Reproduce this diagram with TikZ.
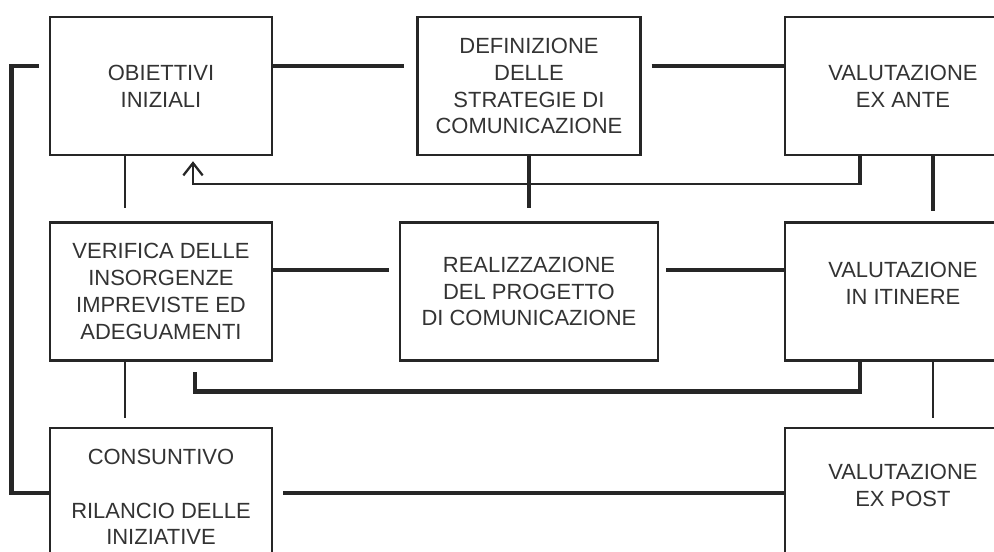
\documentclass[tikz,border=0pt]{standalone}
\usepackage{fontspec}
\setmainfont{Liberation Sans}
\usetikzlibrary{positioning, arrows.meta}

\begin{document}
\begin{tikzpicture}[
    box/.style={draw=black!85, line width=1.4pt, rectangle, minimum width=4.44cm, minimum height=2.76cm, align=center, text=black!80, font=\fontsize{12.5}{15.3}\selectfont},
    thinln/.style={draw=black!85, line width=1.3pt},
    ln/.style={draw=black!85, line width=1.8pt},
    thickln/.style={draw=black!85, line width=2.7pt},
    arr/.style={draw=black!85, line width=1.3pt, -{Straight Barb[length=7pt, width=11pt]}}
]
    \useasboundingbox (-3.22,1.72) rectangle (16.66,-9.30);
    \clip (-3.22,1.72) rectangle (16.66,-9.30);
    \fill[white] (-3.22,1.72) rectangle (16.66,-9.30);

    \node[box] (obj) at (0,0) {OBIETTIVI\\INIZIALI};
    \node[box, minimum width=4.46cm] (def) [right=2.86cm of obj] {DEFINIZIONE\\DELLE\\STRATEGIE DI\\COMUNICAZIONE};
    \node[box, minimum width=4.72cm] (exante) [right=2.84cm of def] {VALUTAZIONE\\EX ANTE};
    \node[box] (ver) [below=1.3cm of obj] {VERIFICA DELLE\\INSORGENZE\\IMPREVISTE ED\\ADEGUAMENTI};
    \node[box, minimum width=5.16cm] (real) [below=1.3cm of def] {REALIZZAZIONE\\DEL PROGETTO\\DI COMUNICAZIONE};
    \node[box, minimum width=4.72cm] (itin) [below=1.3cm of exante] {VALUTAZIONE\\IN ITINERE\\[-6pt]\mbox{}};
    \node[box] (cons) [below=1.3cm of ver] {CONSUNTIVO\\~\\RILANCIO DELLE\\INIZIATIVE};
    \node[box, minimum width=4.72cm] (expost) [below=1.3cm of itin] {VALUTAZIONE\\EX POST\\[-2pt]\mbox{}};

    \draw[ln] ([yshift=0.4cm]obj.east) -- ([xshift=-0.24cm, yshift=0.4cm]def.west);
    \draw[ln] ([xshift=0.2cm, yshift=0.4cm]def.east) -- ([yshift=0.4cm]exante.west);
    \draw[ln] ([yshift=0.43cm]ver.east) -- ([xshift=-0.2cm, yshift=0.43cm]real.west);
    \draw[ln] ([xshift=0.14cm, yshift=0.43cm]real.east) -- ([yshift=0.43cm]itin.west);
    \draw[thickln] ([xshift=0.2cm, yshift=0.08cm]cons.east) -- ([yshift=0.08cm]expost.west);
    \draw[thickln] ([xshift=-0.2cm, yshift=0.4cm]obj.west) -| ([xshift=-0.74cm, yshift=0.08cm]cons.west) -- ([yshift=0.08cm]cons.west);

    \draw[thinln] ([xshift=-0.72cm]obj.south) -- ([xshift=-0.72cm, yshift=0.26cm]ver.north);
    \draw[ln] (def.south) -- ([yshift=0.26cm]real.north);
    \draw[thickln] ([xshift=0.6cm]exante.south) -- ([xshift=0.6cm, yshift=0.2cm]itin.north);
    \draw[thinln] ([xshift=-0.72cm]ver.south) -- ([xshift=-0.72cm, yshift=0.18cm]cons.north);
    \draw[thinln] ([xshift=0.6cm]itin.south) -- ([xshift=0.6cm, yshift=0.18cm]expost.north);

    \draw[thickln] ([xshift=-0.86cm]exante.south) -- ++(0,-0.58) coordinate (back);
    \draw[arr] ([yshift=0.6pt]back) -| ([xshift=0.64cm, yshift=-0.1cm]obj.south);
    \draw[thickln] ([xshift=-0.86cm]itin.south) -- ++(0,-0.6) -| ([xshift=0.68cm, yshift=-0.2cm]ver.south);
\end{tikzpicture}
\end{document}
